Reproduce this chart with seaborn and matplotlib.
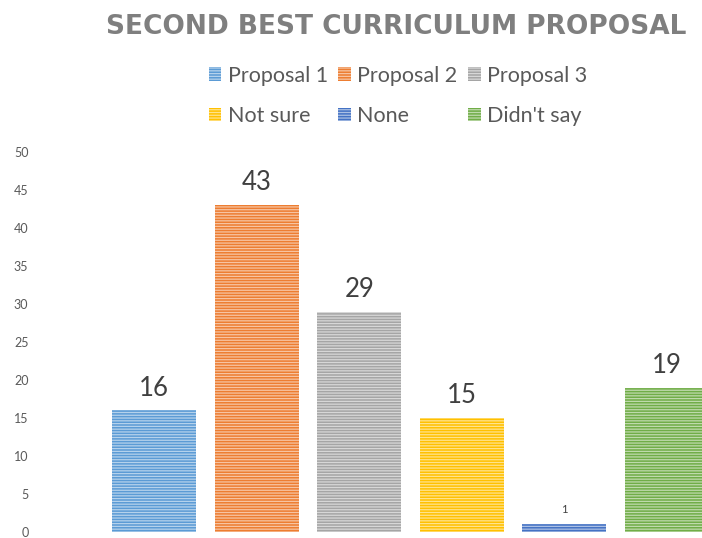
import matplotlib
matplotlib.use("Agg")
import matplotlib.pyplot as plt
from matplotlib.patches import Patch
import matplotlib.colors as mcolors
import seaborn as sns
import pandas as pd

categories = ["Proposal 1", "Proposal 2", "Proposal 3", "Not sure", "None", "Didn't say"]
values = [16, 43, 29, 15, 1, 19]
colors = ["#5B9BD5", "#ED7D31", "#A5A5A5", "#FFC000", "#4472C4", "#70AD47"]
yticks = [0, 5, 10, 15, 20, 25, 30, 35, 40, 45, 50]
title = "SECOND BEST CURRICULUM PROPOSAL"

sns.set_theme(style="white")
plt.rcParams['font.family'] = ['Lato', 'DejaVu Sans']
plt.rcParams['hatch.linewidth'] = 0.9

def tint(c, f=0.55):
    r, g, b = mcolors.to_rgb(c)
    return (r + (1 - r) * f, g + (1 - g) * f, b + (1 - b) * f)

df = pd.DataFrame({"cat": categories, "val": values})

fig = plt.figure(figsize=(7.02, 5.38), dpi=100)
W, H = 702, 538
ax = fig.add_axes([34 / W, (H - 532) / H, (702 - 34) / W, (532 - 152) / H])

sns.barplot(data=df, x="cat", y="val", hue="cat", palette=colors, order=categories,
            hue_order=categories, legend=False, width=0.82, ax=ax, saturation=1)

for patch, c in zip(ax.patches, colors):
    patch.set_hatch("------")
    patch.set_edgecolor(tint(c))
    patch.set_linewidth(0)

for cont, v in zip(ax.containers, values):
    fs = 8 if v < 5 else 18.5
    ax.bar_label(cont, labels=[str(v)], padding=7 if v < 5 else 7, fontsize=fs, color="#404040")

x0 = (34 - 154) / 102.6
x1 = (702 - 154) / 102.6
ax.set_xlim(x0, x1)
ax.set_ylim(0, 50)
ax.set_yticks(yticks)
ax.set_yticklabels([str(t) for t in yticks], fontsize=9, color="#595959")
ax.set_xticks([])
ax.set_xlabel("")
ax.set_ylabel("")
ax.tick_params(axis="y", length=0, pad=4)
for s in ax.spines.values():
    s.set_visible(False)

fig.text(396 / W, 1 - 27 / H, title, ha="center", va="center", fontsize=19,
         fontweight="bold", color="#7F7F7F", family=["DejaVu Sans"])

handles = [Patch(facecolor=c, edgecolor=tint(c), hatch="------", linewidth=0) for c in colors]
order = [0, 3, 1, 4, 2, 5]
leg = fig.legend([handles[i] for i in order], [categories[i] for i in order],
                 ncol=3, loc="center", bbox_to_anchor=(398 / W, 1 - 96 / H),
                 frameon=False, fontsize=15.5, handlelength=0.58, handleheight=0.58,
                 handletextpad=0.3, columnspacing=0.5, labelspacing=0.95)
for t in leg.get_texts():
    t.set_color("#595959")

fig.savefig("out.png", dpi=100)
